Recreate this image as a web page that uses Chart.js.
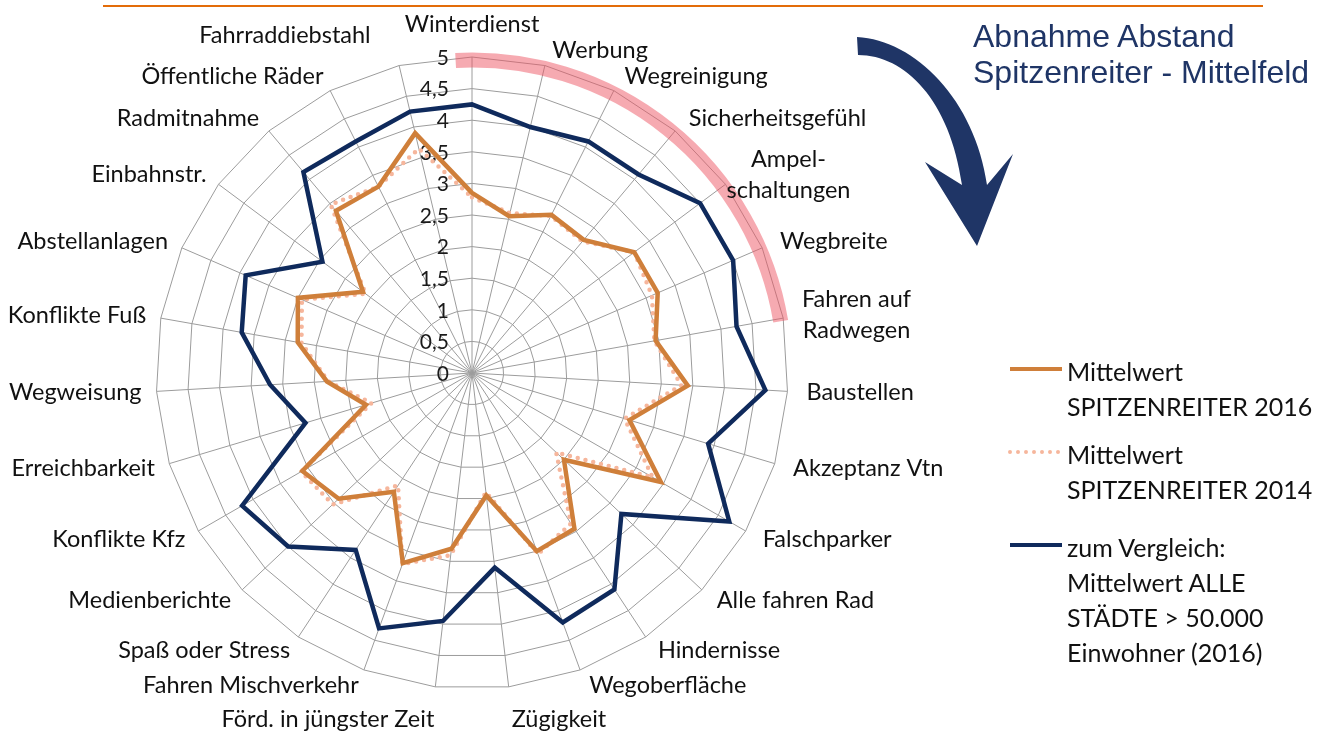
<!DOCTYPE html>
<html lang="de">
<head>
<meta charset="utf-8">
<title>Abnahme Abstand Spitzenreiter - Mittelfeld</title>
<script src="https://cdn.jsdelivr.net/npm/chart.js@4.4.1/dist/chart.umd.min.js"></script>
<style>
  html, body { margin: 0; padding: 0; background: #fff; }
  body { width: 1330px; height: 731px; position: relative; overflow: hidden; font-family: Lato, "Open Sans", sans-serif; }
  #radar { position: absolute; left: 0; top: 0; }
  #deco { position: absolute; left: 0; top: 0; pointer-events: none; }
  .title { position: absolute; left: 973px; top: 18px; font-family: "Liberation Sans", Arial, sans-serif; font-size: 32px; line-height: 36px; color: #1f3566; white-space: nowrap; }
  #legend .item { position: absolute; left: 1004px; width: 320px; }
  #legend .item:nth-child(1) { top: 354px; }
  #legend .item:nth-child(2) { top: 437px; }
  #legend .item:nth-child(3) { top: 530px; }
  #legend svg { position: absolute; left: 0; top: 11px; }
  #legend .txt { position: absolute; left: 63px; top: 0; font-size: 25px; line-height: 35px; color: #111; white-space: nowrap; }
</style>
</head>
<body>
<canvas id="radar" width="1330" height="731"></canvas>
<svg id="deco" width="1330" height="731">
  <line x1="103" y1="6" x2="1263" y2="6" stroke="#e36c09" stroke-width="2"/>
  <path d="M 857 37 C 915 40, 975 100, 987 185 L 1013 154 L 977 246 L 925 162 L 962 185 C 950 100, 905 55, 858 55 Z" fill="#1f3566"/>
</svg>
<div class="title">Abnahme Abstand<br>Spitzenreiter - Mittelfeld</div>
<div id="legend"></div>
<script>
const categories = [
  'Winterdienst', 'Werbung', 'Wegreinigung', 'Sicherheitsgefühl', ['Ampel-', 'schaltungen'],
  'Wegbreite', ['Fahren auf', 'Radwegen'], 'Baustellen', 'Akzeptanz Vtn', 'Falschparker',
  'Alle fahren Rad', 'Hindernisse', 'Wegoberfläche', 'Zügigkeit', 'Förd. in jüngster Zeit',
  'Fahren Mischverkehr', 'Spaß oder Stress', 'Medienberichte', 'Konflikte Kfz', 'Erreichbarkeit',
  'Wegweisung', 'Konflikte Fuß', 'Abstellanlagen', 'Einbahnstr.', 'Radmitnahme',
  'Öffentliche Räder', 'Fahrraddiebstahl'
];

const spitze2016 = [2.85, 2.55, 2.8, 2.75, 3.2, 3.2, 2.95, 3.42, 2.6, 3.45, 2.0, 2.95, 3.0, 1.95, 2.8,
  3.2, 2.25, 2.9, 3.1, 1.75, 2.3, 2.8, 3.0, 2.15, 3.35, 3.3, 3.9];
const spitze2014 = [2.78, 2.6, 2.78, 2.72, 3.2, 3.1, 2.93, 3.32, 2.52, 3.3, 1.83, 2.85, 3.05, 1.9, 2.9,
  3.22, 2.13, 3.03, 3.12, 1.66, 2.28, 2.74, 2.93, 2.1, 3.48, 3.3, 3.65];
const alleStaedte = [4.25, 4.0, 4.1, 4.1, 4.5, 4.5, 4.25, 4.65, 3.9, 4.7, 3.25, 4.1, 4.2, 3.1, 3.95,
  4.3, 3.35, 4.0, 4.2, 2.75, 3.2, 3.7, 3.9, 2.95, 4.15, 4.1, 4.25];

const tickValues = [0, 0.5, 1, 1.5, 2, 2.5, 3, 3.5, 4, 4.5, 5];
const tickLabels = ['0', '0,5', '1', '1,5', '2', '2,5', '3', '3,5', '4', '4,5', '5'];

const seriesNames = [
  ['Mittelwert', 'SPITZENREITER 2016'],
  ['Mittelwert', 'SPITZENREITER 2014'],
  ['zum Vergleich:', 'Mittelwert ALLE', 'STÄDTE > 50.000', 'Einwohner (2016)']
];

// small per-label shifts, like the original office chart did
const labelNudge = { 4: [-15, 0], 26: [-25, -15] };

const radarText = {
  id: 'radarText',
  beforeDatasetsDraw(chart) {
    const r = chart.scales.r;
    const ctx = chart.ctx;
    ctx.save();
    // red band along the outer ring
    const deg = Math.PI / 180;
    ctx.strokeStyle = 'rgba(238, 85, 100, 0.5)';
    ctx.lineWidth = 15;
    ctx.beginPath();
    ctx.arc(r.xCenter, r.yCenter, r.getDistanceFromCenterForValue(5) - 3, -93 * deg, -9.5 * deg);
    ctx.stroke();

    ctx.font = '21px Lato';
    ctx.fillStyle = '#1a1a1a';
    ctx.textAlign = 'right';
    ctx.textBaseline = 'middle';
    r.ticks.forEach(t => {
      ctx.fillText(t.label, r.xCenter - 23, r.yCenter - r.getDistanceFromCenterForValue(t.value) + 1);
    });
    ctx.restore();
  },
  afterDatasetsDraw(chart) {
    const r = chart.scales.r;
    const ctx = chart.ctx;
    ctx.save();
    ctx.font = '23.5px Lato';
    ctx.fillStyle = '#111';
    ctx.textBaseline = 'middle';
    ctx.textAlign = 'center';
    const lh = 31;
    chart.data.labels.forEach((lab, i) => {
      const lines = [].concat(lab);
      const a = r.getIndexAngle(i);
      const s = Math.sin(a), c = Math.cos(a);
      const p = r.getPointPosition(i, r.drawingArea);
      const w = Math.max(...lines.map(l => ctx.measureText(l).width));
      const h = lines.length * lh;
      let left, cy;
      if (Math.abs(c) > 0.98) {
        cy = p.y - Math.sign(c) * (h / 2 + 17);
        if (s > 0.01) left = p.x + 3;
        else if (s < -0.01) left = p.x - 1 - w;
        else left = p.x - w / 2;
      } else {
        cy = p.y - 16 * c;
        left = s > 0 ? p.x + 15 * s + 4 : p.x + 15 * s - w;
      }
      const n = labelNudge[i] || [0, 0];
      left += n[0];
      cy += n[1];
      lines.forEach((l, k) => ctx.fillText(l, left + w / 2, cy - h / 2 + lh * (k + 0.5)));
    });
    ctx.restore();
  }
};

const chart = new Chart(document.getElementById('radar'), {
  type: 'radar',
  data: {
    labels: categories,
    datasets: [{
      label: seriesNames[0].join(' '),
      data: spitze2016,
      borderColor: '#cf7f3a',
      borderWidth: 4.5,
      fill: false,
      pointRadius: 0
    }, {
      label: seriesNames[1].join(' '),
      data: spitze2014,
      borderColor: '#f6b69c',
      borderWidth: 4.5,
      borderDash: [0, 8],
      borderCapStyle: 'round',
      fill: false,
      pointRadius: 0
    }, {
      label: seriesNames[2].join(' '),
      data: alleStaedte,
      borderColor: '#0f2a5c',
      borderWidth: 4.5,
      fill: false,
      pointRadius: 0
    }]
  },
  options: {
    responsive: false,
    animation: false,
    devicePixelRatio: 1,
    layout: { padding: { left: 156, right: 542, top: 57, bottom: 42 } },
    plugins: { legend: { display: false }, tooltip: { enabled: false } },
    elements: { line: { tension: 0, borderJoinStyle: 'miter' } },
    scales: {
      r: {
        min: 0,
        max: 5,
        afterBuildTicks: s => { s.ticks = tickValues.map(v => ({ value: v })); },
        ticks: { display: false, callback: (v, i) => tickLabels[i] },
        pointLabels: { display: false },
        grid: { color: '#9c9c9c', lineWidth: 1 },
        angleLines: { color: '#9c9c9c', lineWidth: 1 }
      }
    }
  },
  plugins: [radarText]
});

const legend = document.getElementById('legend');
chart.data.datasets.forEach((ds, i) => {
  const item = document.createElement('div');
  item.className = 'item';
  const dash = ds.borderDash ? ' stroke-dasharray="0 8" stroke-linecap="round"' : '';
  item.innerHTML = '<svg width="60" height="8"><line x1="6" y1="4" x2="58" y2="4" stroke="' + ds.borderColor +
    '" stroke-width="4"' + dash + '/></svg><div class="txt">' + seriesNames[i].join('<br>') + '</div>';
  legend.appendChild(item);
});
</script>
</body>
</html>
